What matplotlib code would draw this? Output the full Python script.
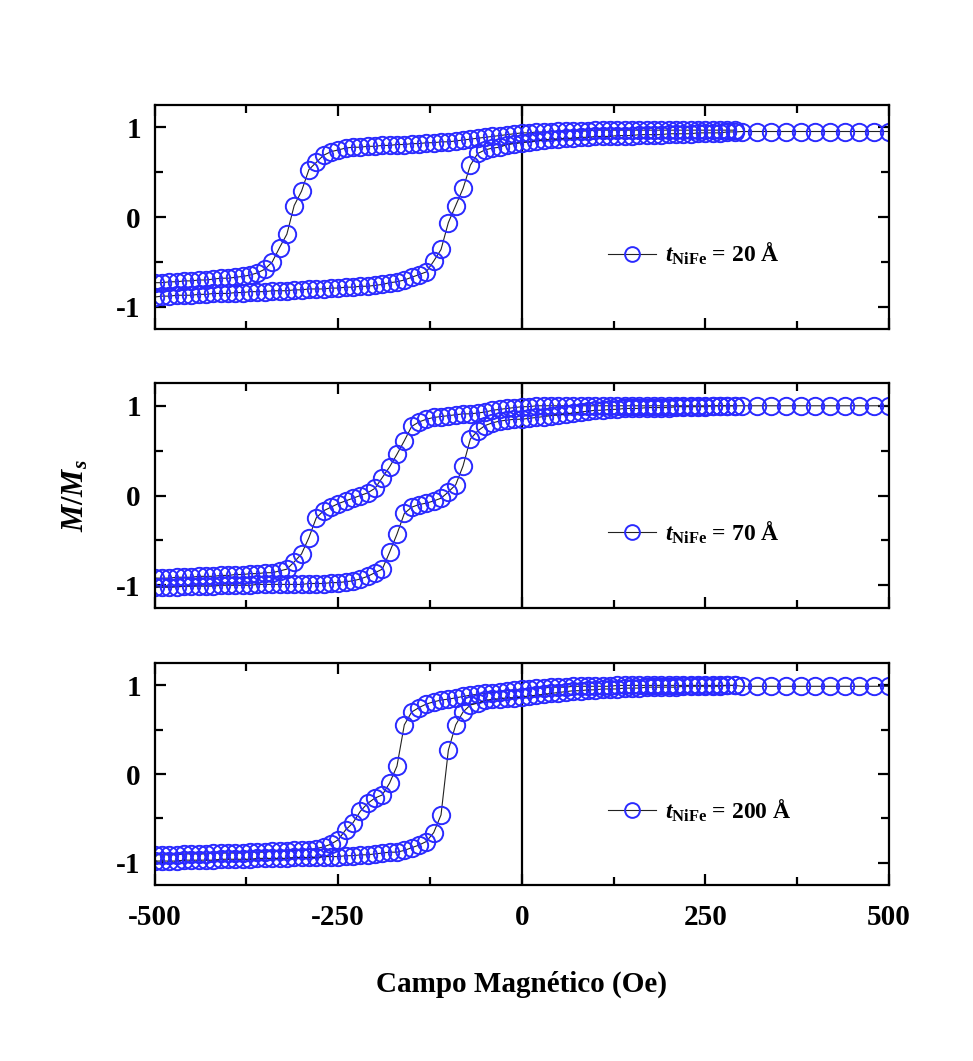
import numpy as np
import matplotlib
matplotlib.use("Agg")
import matplotlib.pyplot as plt
from matplotlib.ticker import MultipleLocator

plt.rcParams['font.family'] = 'Liberation Serif'
plt.rcParams['font.weight'] = 'bold'
plt.rcParams['mathtext.fontset'] = 'custom'
plt.rcParams['mathtext.rm'] = 'Liberation Serif:bold'
plt.rcParams['mathtext.it'] = 'Liberation Serif:italic:bold'
plt.rcParams['mathtext.bf'] = 'Liberation Serif:bold'
plt.rcParams['axes.unicode_minus'] = False
plt.rcParams['xtick.direction'] = 'in'
plt.rcParams['ytick.direction'] = 'in'
plt.rcParams['axes.linewidth'] = 1.6

# field grid of the loop (Oe), fine steps, and the coarse tail at high field
H = np.arange(-500, 300, 10)
H_tail = np.arange(300, 501, 20)

# t_NiFe = 20 A : descending (upper) and ascending (lower) branches, H = -500..290
m20_desc = [-0.73, -0.73, -0.72, -0.72, -0.71, -0.71, -0.70, -0.70, -0.69, -0.68,
            -0.68, -0.67, -0.66, -0.645, -0.62, -0.58, -0.50, -0.34, -0.19, 0.13,
            0.29, 0.53, 0.61, 0.69, 0.73, 0.75, 0.77, 0.78, 0.78, 0.79,
            0.79, 0.80, 0.80, 0.81, 0.81, 0.82, 0.82, 0.83, 0.83, 0.84,
            0.84, 0.85, 0.86, 0.87, 0.88, 0.89, 0.90, 0.91, 0.92, 0.93,
            0.94, 0.94, 0.95, 0.95, 0.95, 0.96, 0.96, 0.96, 0.96, 0.96,
            0.97, 0.97, 0.97, 0.97, 0.97, 0.97, 0.97, 0.97, 0.97, 0.97,
            0.97, 0.97, 0.97, 0.97, 0.97, 0.97, 0.97, 0.97, 0.97, 0.97]
m20_asc = [-0.89, -0.88, -0.88, -0.87, -0.87, -0.87, -0.86, -0.86, -0.85, -0.85,
           -0.85, -0.84, -0.84, -0.83, -0.83, -0.83, -0.82, -0.82, -0.82, -0.81,
           -0.81, -0.80, -0.80, -0.80, -0.79, -0.79, -0.78, -0.78, -0.77, -0.77,
           -0.76, -0.75, -0.73, -0.72, -0.70, -0.67, -0.64, -0.61, -0.49, -0.36,
           -0.06, 0.13, 0.32, 0.58, 0.71, 0.75, 0.77, 0.78, 0.81, 0.82,
           0.83, 0.84, 0.85, 0.86, 0.87, 0.87, 0.88, 0.88, 0.89, 0.89,
           0.90, 0.90, 0.90, 0.91, 0.91, 0.91, 0.92, 0.92, 0.92, 0.92,
           0.93, 0.93, 0.93, 0.93, 0.94, 0.94, 0.94, 0.94, 0.95, 0.95]
m20_tail = [0.955, 0.955, 0.955, 0.955, 0.955, 0.955, 0.955, 0.955, 0.955, 0.955, 0.955]

# t_NiFe = 70 A
m70_desc = [-0.92, -0.92, -0.92, -0.91, -0.91, -0.91, -0.90, -0.90, -0.90, -0.89,
            -0.89, -0.88, -0.88, -0.87, -0.87, -0.86, -0.86, -0.84, -0.82, -0.74,
            -0.65, -0.47, -0.25, -0.17, -0.13, -0.09, -0.06, -0.03, 0.00, 0.03,
            0.08, 0.20, 0.32, 0.46, 0.61, 0.77, 0.82, 0.85, 0.87, 0.88,
            0.89, 0.90, 0.91, 0.91, 0.92, 0.93, 0.95, 0.96, 0.97, 0.98,
            0.99, 0.99, 1.00, 1.00, 1.00, 1.00, 1.00, 1.00, 1.00, 1.00,
            1.00, 1.00, 1.00, 1.00, 1.00, 1.00, 1.00, 1.00, 1.00, 1.00,
            1.00, 1.00, 1.00, 1.00, 1.00, 1.00, 1.00, 1.00, 1.00, 1.00]
m70_asc = [-1.02, -1.02, -1.02, -1.02, -1.01, -1.01, -1.01, -1.01, -1.01, -1.00,
           -1.00, -1.00, -1.00, -1.00, -0.99, -0.99, -0.99, -0.99, -0.99, -0.99,
           -0.99, -0.98, -0.98, -0.98, -0.97, -0.97, -0.96, -0.95, -0.93, -0.90,
           -0.86, -0.82, -0.63, -0.43, -0.20, -0.13, -0.10, -0.085, -0.06, -0.03,
           0.04, 0.12, 0.33, 0.63, 0.72, 0.78, 0.81, 0.83, 0.84, 0.85,
           0.85, 0.86, 0.87, 0.88, 0.89, 0.90, 0.91, 0.92, 0.93, 0.94,
           0.95, 0.95, 0.96, 0.96, 0.97, 0.97, 0.97, 0.98, 0.98, 0.98,
           0.98, 0.99, 0.99, 0.99, 0.99, 0.99, 1.00, 1.00, 1.00, 1.00]
m70_tail = [1.00, 1.00, 1.00, 1.00, 1.00, 1.00, 1.00, 1.00, 1.00, 1.00, 1.00]

# t_NiFe = 200 A
m200_desc = [-0.91, -0.91, -0.91, -0.91, -0.90, -0.90, -0.90, -0.90, -0.89, -0.89,
             -0.89, -0.89, -0.89, -0.88, -0.88, -0.88, -0.87, -0.87, -0.87, -0.86,
             -0.86, -0.85, -0.84, -0.82, -0.79, -0.74, -0.63, -0.55, -0.42, -0.33,
             -0.27, -0.235, -0.10, 0.09, 0.555, 0.70, 0.75, 0.79, 0.815, 0.835,
             0.845, 0.86, 0.875, 0.89, 0.90, 0.91, 0.92, 0.93, 0.94, 0.95,
             0.96, 0.96, 0.97, 0.97, 0.98, 0.98, 0.98, 0.99, 0.99, 0.99,
             0.99, 0.99, 0.99, 1.00, 1.00, 1.00, 1.00, 1.00, 1.00, 1.00,
             1.00, 1.00, 1.00, 1.00, 1.00, 1.00, 1.00, 1.00, 1.00, 1.00]
m200_asc = [-0.98, -0.98, -0.98, -0.98, -0.97, -0.97, -0.97, -0.97, -0.97, -0.96,
            -0.96, -0.96, -0.96, -0.96, -0.95, -0.95, -0.95, -0.95, -0.95, -0.94,
            -0.94, -0.94, -0.94, -0.93, -0.93, -0.93, -0.92, -0.92, -0.91, -0.91,
            -0.90, -0.89, -0.88, -0.88, -0.86, -0.83, -0.80, -0.76, -0.66, -0.46,
            0.27, 0.555, 0.70, 0.78, 0.80, 0.83, 0.845, 0.85, 0.86, 0.86,
            0.87, 0.88, 0.89, 0.90, 0.91, 0.92, 0.93, 0.94, 0.94, 0.95,
            0.95, 0.96, 0.96, 0.96, 0.97, 0.97, 0.97, 0.98, 0.98, 0.98,
            0.98, 0.98, 0.99, 0.99, 0.99, 0.99, 0.99, 0.99, 1.00, 1.00]
m200_tail = [0.99, 0.99, 0.99, 0.99, 0.99, 0.99, 0.99, 0.99, 0.99, 0.99, 0.99]

labels = [r'$t_{\mathrm{NiFe}}$ = 20 Å', r'$t_{\mathrm{NiFe}}$ = 70 Å', r'$t_{\mathrm{NiFe}}$ = 200 Å']
loops = [(m20_desc, m20_asc, m20_tail), (m70_desc, m70_asc, m70_tail), (m200_desc, m200_asc, m200_tail)]

# %%
fig = plt.figure(figsize=(9.73, 10.61), dpi=100)
boxes = [[0.159, 0.6896, 0.7545, 0.2114],
         [0.159, 0.4272, 0.7545, 0.2115],
         [0.159, 0.1659, 0.7545, 0.2090]]
blue = '#2a2aff'
style = dict(color='#222222', lw=0.8, marker='o', ms=12.5, mfc='none', mec=blue, mew=1.4)

for i, (box, (md, ma, mt)) in enumerate(zip(boxes, loops)):
    ax = fig.add_axes(box)
    ax.axvline(0, color='k', lw=1.6)
    ax.plot(H, md, **style)
    ln, = ax.plot(np.concatenate([H, H_tail]), np.concatenate([ma, mt]), **style)
    ax.set_xlim(-500, 500)
    ax.set_ylim(-1.25, 1.25)
    ax.set_xticks([-500, -250, 0, 250, 500])
    ax.xaxis.set_minor_locator(MultipleLocator(125))
    ax.set_yticks([-1, 0, 1])
    ax.yaxis.set_minor_locator(MultipleLocator(0.5))
    ax.tick_params(which='both', top=True, right=True, width=1.6)
    ax.tick_params(which='major', length=8)
    ax.tick_params(which='minor', length=6)
    ax.tick_params(axis='y', labelsize=21, pad=10)
    ax.tick_params(axis='x', labelsize=21, pad=14)
    if i < 2:
        ax.tick_params(axis='x', labelbottom=False)
    ln.set_label(labels[i])
    ax.legend(handles=[ln], loc='center left', bbox_to_anchor=(0.618, 0.335),
              frameon=False, fontsize=17, handlelength=2.0, handletextpad=0.4,
              numpoints=1, borderpad=0, borderaxespad=0, markerscale=0.85)

fig.text(0.078, 0.533, r'$M/M_s$', rotation=90, fontsize=22, ha='center', va='center')
fig.text(0.536, 0.072, 'Campo Magnético (Oe)', fontsize=21, ha='center', va='center')

plt.savefig('out.png', dpi=100, facecolor='white')
